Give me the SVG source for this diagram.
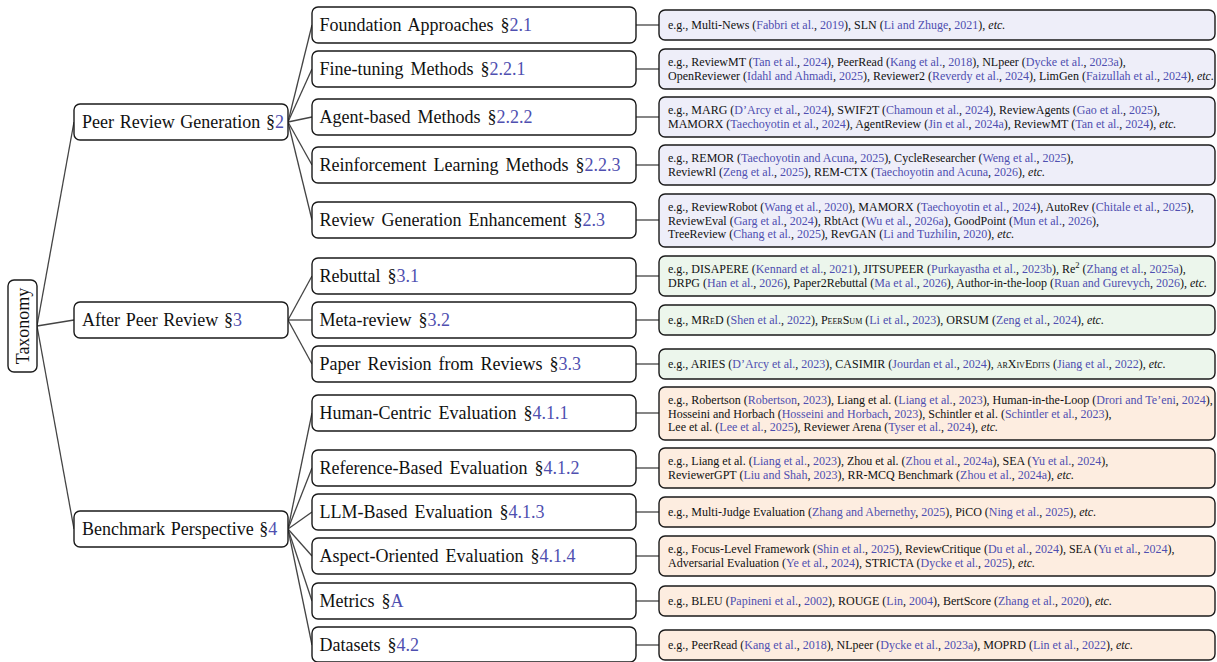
<svg xmlns="http://www.w3.org/2000/svg" width="1217" height="662" viewBox="0 0 1217 662">
<style>
.bx{fill:#fff;stroke:#1a1a1a;stroke-width:1.4}
.lb{fill:#eeeef9;stroke:#1a1a1a;stroke-width:1.4}
.lg{fill:#ecf6ec;stroke:#1a1a1a;stroke-width:1.4}
.lo{fill:#fdede0;stroke:#1a1a1a;stroke-width:1.4}
.n{font-family:"Liberation Serif","Times New Roman",serif;font-size:18px;fill:#111;word-spacing:2.5px}
.n1{word-spacing:1.2px}
.t{font-family:"Liberation Serif","Times New Roman",serif;font-size:12px;fill:#111}
.c{fill:#4f4fb0}
.i{font-style:italic}
.sc{font-variant:small-caps}
.e line{stroke:#444;stroke-width:1.3}
</style>
<g class="e" id="connectors">
<line x1="37" y1="326" x2="74" y2="122"/>
<line x1="37" y1="326" x2="74" y2="320"/>
<line x1="37" y1="326" x2="74" y2="529"/>
<line x1="288" y1="122" x2="312" y2="25"/>
<line x1="288" y1="122" x2="312" y2="69"/>
<line x1="288" y1="122" x2="312" y2="117"/>
<line x1="288" y1="122" x2="312" y2="165"/>
<line x1="288" y1="122" x2="312" y2="220"/>
<line x1="288" y1="320" x2="312" y2="276"/>
<line x1="288" y1="320" x2="312" y2="320"/>
<line x1="288" y1="320" x2="312" y2="364"/>
<line x1="288" y1="529" x2="312" y2="413"/>
<line x1="288" y1="529" x2="312" y2="468"/>
<line x1="288" y1="529" x2="312" y2="512"/>
<line x1="288" y1="529" x2="312" y2="556"/>
<line x1="288" y1="529" x2="312" y2="601"/>
<line x1="288" y1="529" x2="312" y2="645"/>
<line x1="636" y1="25" x2="659" y2="25"/>
<line x1="636" y1="69" x2="659" y2="69"/>
<line x1="636" y1="117" x2="659" y2="117"/>
<line x1="636" y1="165" x2="659" y2="165"/>
<line x1="636" y1="220" x2="659" y2="220"/>
<line x1="636" y1="276" x2="659" y2="276"/>
<line x1="636" y1="320" x2="659" y2="320"/>
<line x1="636" y1="364" x2="659" y2="364"/>
<line x1="636" y1="413" x2="659" y2="413"/>
<line x1="636" y1="468" x2="659" y2="468"/>
<line x1="636" y1="512" x2="659" y2="512"/>
<line x1="636" y1="556" x2="659" y2="556"/>
<line x1="636" y1="601" x2="659" y2="601"/>
<line x1="636" y1="645" x2="659" y2="645"/>
</g>
<g id="taxonomy">
<rect class="bx" x="8" y="280" width="29" height="92" rx="6"/>
<text class="n" transform="translate(28.5,326) rotate(-90)" text-anchor="middle">Taxonomy</text>
</g>
<g id="peer-review-generation">
<rect class="bx" x="74" y="104" width="214" height="36" rx="6"/>
<text class="n n1" x="82" y="128">Peer Review Generation §<tspan class="c">2</tspan></text>
</g>
<g id="after-peer-review">
<rect class="bx" x="74" y="302" width="214" height="36" rx="6"/>
<text class="n n1" x="82" y="326">After Peer Review §<tspan class="c">3</tspan></text>
</g>
<g id="benchmark-perspective">
<rect class="bx" x="74" y="511" width="214" height="36" rx="6"/>
<text class="n n1" x="82" y="535">Benchmark Perspective §<tspan class="c">4</tspan></text>
</g>
<g id="foundation">
<rect class="bx" x="312" y="7" width="324" height="36" rx="6"/>
<text class="n" x="319.5" y="31">Foundation Approaches §<tspan class="c">2.1</tspan></text>
</g>
<g id="fine-tuning">
<rect class="bx" x="312" y="51" width="324" height="36" rx="6"/>
<text class="n" x="319.5" y="75">Fine-tuning Methods §<tspan class="c">2.2.1</tspan></text>
</g>
<g id="agent-based">
<rect class="bx" x="312" y="99" width="324" height="36" rx="6"/>
<text class="n" x="319.5" y="123">Agent-based Methods §<tspan class="c">2.2.2</tspan></text>
</g>
<g id="rl-methods">
<rect class="bx" x="312" y="147" width="324" height="36" rx="6"/>
<text class="n" x="319.5" y="171">Reinforcement Learning Methods §<tspan class="c">2.2.3</tspan></text>
</g>
<g id="enhancement">
<rect class="bx" x="312" y="202" width="324" height="36" rx="6"/>
<text class="n" x="319.5" y="226">Review Generation Enhancement §<tspan class="c">2.3</tspan></text>
</g>
<g id="rebuttal">
<rect class="bx" x="312" y="258" width="324" height="36" rx="6"/>
<text class="n" x="319.5" y="282">Rebuttal §<tspan class="c">3.1</tspan></text>
</g>
<g id="meta-review">
<rect class="bx" x="312" y="302" width="324" height="36" rx="6"/>
<text class="n" x="319.5" y="326">Meta-review §<tspan class="c">3.2</tspan></text>
</g>
<g id="paper-revision">
<rect class="bx" x="312" y="346" width="324" height="36" rx="6"/>
<text class="n" x="319.5" y="370">Paper Revision from Reviews §<tspan class="c">3.3</tspan></text>
</g>
<g id="human-centric">
<rect class="bx" x="312" y="395" width="324" height="36" rx="6"/>
<text class="n" x="319.5" y="419">Human-Centric Evaluation §<tspan class="c">4.1.1</tspan></text>
</g>
<g id="reference-based">
<rect class="bx" x="312" y="450" width="324" height="36" rx="6"/>
<text class="n" x="319.5" y="474">Reference-Based Evaluation §<tspan class="c">4.1.2</tspan></text>
</g>
<g id="llm-based">
<rect class="bx" x="312" y="494" width="324" height="36" rx="6"/>
<text class="n" x="319.5" y="518">LLM-Based Evaluation §<tspan class="c">4.1.3</tspan></text>
</g>
<g id="aspect-oriented">
<rect class="bx" x="312" y="538" width="324" height="36" rx="6"/>
<text class="n" x="319.5" y="562">Aspect-Oriented Evaluation §<tspan class="c">4.1.4</tspan></text>
</g>
<g id="metrics">
<rect class="bx" x="312" y="583" width="324" height="36" rx="6"/>
<text class="n" x="319.5" y="607">Metrics §<tspan class="c">A</tspan></text>
</g>
<g id="datasets">
<rect class="bx" x="312" y="627" width="324" height="35" rx="6"/>
<text class="n" x="319.5" y="651">Datasets §<tspan class="c">4.2</tspan></text>
</g>
<g id="leaf-foundation">
<rect class="lb" x="659" y="10" width="556" height="30" rx="6"/>
<text class="t" x="668" y="29">e.g., Multi-News (<tspan class="c">Fabbri et al.</tspan>, <tspan class="c">2019</tspan>), SLN (<tspan class="c">Li and Zhuge</tspan>, <tspan class="c">2021</tspan>), <tspan class="i">etc.</tspan></text>
</g>
<g id="leaf-fine-tuning">
<rect class="lb" x="659" y="49" width="556" height="40" rx="6"/>
<text class="t" x="668" y="66">e.g., ReviewMT (<tspan class="c">Tan et al.</tspan>, <tspan class="c">2024</tspan>), PeerRead (<tspan class="c">Kang et al.</tspan>, <tspan class="c">2018</tspan>), NLpeer (<tspan class="c">Dycke et al.</tspan>, <tspan class="c">2023a</tspan>),</text>
<text class="t" x="668" y="80">OpenReviewer (<tspan class="c">Idahl and Ahmadi</tspan>, <tspan class="c">2025</tspan>), Reviewer2 (<tspan class="c">Reverdy et al.</tspan>, <tspan class="c">2024</tspan>), LimGen (<tspan class="c">Faizullah et al.</tspan>, <tspan class="c">2024</tspan>), <tspan class="i">etc.</tspan></text>
</g>
<g id="leaf-agent-based">
<rect class="lb" x="659" y="97" width="556" height="40" rx="6"/>
<text class="t" x="668" y="114">e.g., MARG (<tspan class="c">D’Arcy et al.</tspan>, <tspan class="c">2024</tspan>), SWIF2T (<tspan class="c">Chamoun et al.</tspan>, <tspan class="c">2024</tspan>), ReviewAgents (<tspan class="c">Gao et al.</tspan>, <tspan class="c">2025</tspan>),</text>
<text class="t" x="668" y="128">MAMORX (<tspan class="c">Taechoyotin et al.</tspan>, <tspan class="c">2024</tspan>), AgentReview (<tspan class="c">Jin et al.</tspan>, <tspan class="c">2024a</tspan>), ReviewMT (<tspan class="c">Tan et al.</tspan>, <tspan class="c">2024</tspan>), <tspan class="i">etc.</tspan></text>
</g>
<g id="leaf-rl-methods">
<rect class="lb" x="659" y="145" width="556" height="40" rx="6"/>
<text class="t" x="668" y="162">e.g., REMOR (<tspan class="c">Taechoyotin and Acuna</tspan>, <tspan class="c">2025</tspan>), CycleResearcher (<tspan class="c">Weng et al.</tspan>, <tspan class="c">2025</tspan>),</text>
<text class="t" x="668" y="176">ReviewRl (<tspan class="c">Zeng et al.</tspan>, <tspan class="c">2025</tspan>), REM-CTX (<tspan class="c">Taechoyotin and Acuna</tspan>, <tspan class="c">2026</tspan>), <tspan class="i">etc.</tspan></text>
</g>
<g id="leaf-enhancement">
<rect class="lb" x="659" y="194" width="556" height="53" rx="6"/>
<text class="t" x="668" y="211">e.g., ReviewRobot (<tspan class="c">Wang et al.</tspan>, <tspan class="c">2020</tspan>), MAMORX (<tspan class="c">Taechoyotin et al.</tspan>, <tspan class="c">2024</tspan>), AutoRev (<tspan class="c">Chitale et al.</tspan>, <tspan class="c">2025</tspan>),</text>
<text class="t" x="668" y="224.5">ReviewEval (<tspan class="c">Garg et al.</tspan>, <tspan class="c">2024</tspan>), RbtAct (<tspan class="c">Wu et al.</tspan>, <tspan class="c">2026a</tspan>), GoodPoint (<tspan class="c">Mun et al.</tspan>, <tspan class="c">2026</tspan>),</text>
<text class="t" x="668" y="238">TreeReview (<tspan class="c">Chang et al.</tspan>, <tspan class="c">2025</tspan>), RevGAN (<tspan class="c">Li and Tuzhilin</tspan>, <tspan class="c">2020</tspan>), <tspan class="i">etc.</tspan></text>
</g>
<g id="leaf-rebuttal">
<rect class="lg" x="659" y="256" width="556" height="40" rx="6"/>
<text class="t" x="668" y="273">e.g., DISAPERE (<tspan class="c">Kennard et al.</tspan>, <tspan class="c">2021</tspan>), JITSUPEER (<tspan class="c">Purkayastha et al.</tspan>, <tspan class="c">2023b</tspan>), Re<tspan font-size="8.5" dy="-5">2</tspan><tspan dy="5"> (</tspan><tspan class="c">Zhang et al.</tspan>, <tspan class="c">2025a</tspan>),</text>
<text class="t" x="668" y="287">DRPG (<tspan class="c">Han et al.</tspan>, <tspan class="c">2026</tspan>), Paper2Rebuttal (<tspan class="c">Ma et al.</tspan>, <tspan class="c">2026</tspan>), Author-in-the-loop (<tspan class="c">Ruan and Gurevych</tspan>, <tspan class="c">2026</tspan>), <tspan class="i">etc.</tspan></text>
</g>
<g id="leaf-meta-review">
<rect class="lg" x="659" y="305" width="556" height="30" rx="6"/>
<text class="t" x="668" y="324">e.g., <tspan class="sc">MReD</tspan> (<tspan class="c">Shen et al.</tspan>, <tspan class="c">2022</tspan>), <tspan class="sc">PeerSum</tspan> (<tspan class="c">Li et al.</tspan>, <tspan class="c">2023</tspan>), ORSUM (<tspan class="c">Zeng et al.</tspan>, <tspan class="c">2024</tspan>), <tspan class="i">etc.</tspan></text>
</g>
<g id="leaf-paper-revision">
<rect class="lg" x="659" y="349" width="556" height="30" rx="6"/>
<text class="t" x="668" y="368">e.g., ARIES (<tspan class="c">D’Arcy et al.</tspan>, <tspan class="c">2023</tspan>), CASIMIR (<tspan class="c">Jourdan et al.</tspan>, <tspan class="c">2024</tspan>), <tspan class="sc">arXivEdits</tspan> (<tspan class="c">Jiang et al.</tspan>, <tspan class="c">2022</tspan>), <tspan class="i">etc.</tspan></text>
</g>
<g id="leaf-human-centric">
<rect class="lo" x="659" y="387" width="556" height="53" rx="6"/>
<text class="t" x="668" y="404">e.g., Robertson (<tspan class="c">Robertson</tspan>, <tspan class="c">2023</tspan>), Liang et al. (<tspan class="c">Liang et al.</tspan>, <tspan class="c">2023</tspan>), Human-in-the-Loop (<tspan class="c">Drori and Te’eni</tspan>, <tspan class="c">2024</tspan>),</text>
<text class="t" x="668" y="417.5">Hosseini and Horbach (<tspan class="c">Hosseini and Horbach</tspan>, <tspan class="c">2023</tspan>), Schintler et al. (<tspan class="c">Schintler et al.</tspan>, <tspan class="c">2023</tspan>),</text>
<text class="t" x="668" y="431">Lee et al. (<tspan class="c">Lee et al.</tspan>, <tspan class="c">2025</tspan>), Reviewer Arena (<tspan class="c">Tyser et al.</tspan>, <tspan class="c">2024</tspan>), <tspan class="i">etc.</tspan></text>
</g>
<g id="leaf-reference-based">
<rect class="lo" x="659" y="448" width="556" height="40" rx="6"/>
<text class="t" x="668" y="465">e.g., Liang et al. (<tspan class="c">Liang et al.</tspan>, <tspan class="c">2023</tspan>), Zhou et al. (<tspan class="c">Zhou et al.</tspan>, <tspan class="c">2024a</tspan>), SEA (<tspan class="c">Yu et al.</tspan>, <tspan class="c">2024</tspan>),</text>
<text class="t" x="668" y="479">ReviewerGPT (<tspan class="c">Liu and Shah</tspan>, <tspan class="c">2023</tspan>), RR-MCQ Benchmark (<tspan class="c">Zhou et al.</tspan>, <tspan class="c">2024a</tspan>), <tspan class="i">etc.</tspan></text>
</g>
<g id="leaf-llm-based">
<rect class="lo" x="659" y="497" width="556" height="30" rx="6"/>
<text class="t" x="668" y="516">e.g., Multi-Judge Evaluation (<tspan class="c">Zhang and Abernethy</tspan>, <tspan class="c">2025</tspan>), PiCO (<tspan class="c">Ning et al.</tspan>, <tspan class="c">2025</tspan>), <tspan class="i">etc.</tspan></text>
</g>
<g id="leaf-aspect-oriented">
<rect class="lo" x="659" y="536" width="556" height="40" rx="6"/>
<text class="t" x="668" y="553">e.g., Focus-Level Framework (<tspan class="c">Shin et al.</tspan>, <tspan class="c">2025</tspan>), ReviewCritique (<tspan class="c">Du et al.</tspan>, <tspan class="c">2024</tspan>), SEA (<tspan class="c">Yu et al.</tspan>, <tspan class="c">2024</tspan>),</text>
<text class="t" x="668" y="567">Adversarial Evaluation (<tspan class="c">Ye et al.</tspan>, <tspan class="c">2024</tspan>), STRICTA (<tspan class="c">Dycke et al.</tspan>, <tspan class="c">2025</tspan>), <tspan class="i">etc.</tspan></text>
</g>
<g id="leaf-metrics">
<rect class="lo" x="659" y="586" width="556" height="30" rx="6"/>
<text class="t" x="668" y="605">e.g., BLEU (<tspan class="c">Papineni et al.</tspan>, <tspan class="c">2002</tspan>), ROUGE (<tspan class="c">Lin</tspan>, <tspan class="c">2004</tspan>), BertScore (<tspan class="c">Zhang et al.</tspan>, <tspan class="c">2020</tspan>), <tspan class="i">etc.</tspan></text>
</g>
<g id="leaf-datasets">
<rect class="lo" x="659" y="630" width="556" height="30" rx="6"/>
<text class="t" x="668" y="649">e.g., PeerRead (<tspan class="c">Kang et al.</tspan>, <tspan class="c">2018</tspan>), NLpeer (<tspan class="c">Dycke et al.</tspan>, <tspan class="c">2023a</tspan>), MOPRD (<tspan class="c">Lin et al.</tspan>, <tspan class="c">2022</tspan>), <tspan class="i">etc.</tspan></text>
</g>
</svg>
